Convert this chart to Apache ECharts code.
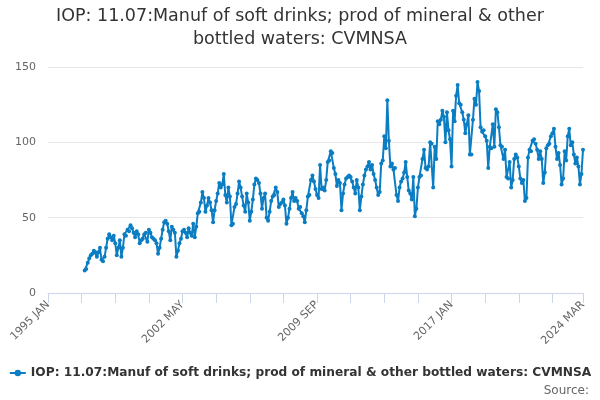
<!DOCTYPE html>
<html>
<head>
<meta charset="utf-8">
<script src="https://cdn.jsdelivr.net/npm/echarts@6/dist/echarts.min.js"></script>
<style>
html,body{margin:0;padding:0;background:#fff;}
#chart{width:600px;height:400px;}
</style>
</head>
<body>
<div id="chart"></div>
<script>
const monthNames = ['JAN','FEB','MAR','APR','MAY','JUN','JUL','AUG','SEP','OCT','NOV','DEC'];
const firstYear = 1995;
const lastYear = 2024;
const lastMonthIndex = 2; // MAR
const dataStart = '1997 JAN';
const yTicks = [0, 50, 100, 150];
const seriesName = 'IOP: 11.07:Manuf of soft drinks; prod of mineral & other bottled waters: CVMNSA';

const values = [
  15, 16, 20, 23, 25, 26, 28, 27, 24, 27, 30, 22,        // 1997
  21, 24, 30, 36, 39, 37, 35, 38, 33, 25, 30, 35,        // 1998
  24, 30, 39, 38, 42, 41, 45, 43, 40, 37, 41, 39,        // 1999
  33, 35, 36, 39, 40, 34, 42, 40, 37, 36, 35, 33,        // 2000
  26, 30, 36, 42, 47, 48, 46, 41, 35, 44, 42, 40,        // 2001
  24, 28, 33, 36, 41, 42, 40, 37, 43, 40, 38, 46,        // 2002
  37, 44, 53, 54, 60, 67, 63, 54, 58, 63, 60, 55,        // 2003
  47, 55, 61, 66, 73, 70, 72, 79, 65, 60, 70, 64,        // 2004
  45, 46, 57, 59, 66, 74, 70, 64, 58, 54, 66, 60,        // 2005
  48, 54, 62, 72, 76, 75, 73, 66, 56, 63, 66, 50,        // 2006
  48, 54, 61, 64, 65, 70, 67, 57, 59, 60, 62, 58,        // 2007
  46, 50, 56, 63, 67, 61, 63, 61, 56, 57, 53, 51,        // 2008
  47, 55, 64, 65, 75, 78, 74, 69, 65, 63, 85, 69,        // 2009
  70, 68, 75, 87, 88, 94, 93, 83, 79, 71, 75, 73,        // 2010
  55, 66, 72, 76, 77, 78, 77, 74, 70, 66, 75, 70,        // 2011
  55, 64, 72, 78, 82, 84, 87, 82, 85, 79, 75, 70,        // 2012
  65, 67, 86, 88, 104, 96, 128, 101, 84, 86, 82, 83,     // 2013
  65, 61, 70, 74, 76, 80, 87, 77, 68, 66, 62, 77,        // 2014
  51, 56, 70, 77, 78, 89, 95, 83, 82, 84, 100, 99,       // 2015
  70, 97, 89, 114, 112, 115, 121, 117, 100, 120, 108, 102, // 2016
  84, 121, 114, 131, 138, 126, 125, 120, 115, 106, 112, 118, // 2017
  92, 92, 115, 129, 125, 140, 134, 110, 107, 108, 104, 101, // 2018
  83, 97, 96, 112, 97, 122, 120, 110, 98, 97, 89, 95,    // 2019
  77, 76, 87, 70, 75, 89, 92, 90, 84, 76, 73, 75,        // 2020
  61, 63, 90, 95, 94, 101, 102, 99, 95, 89, 94, 89,      // 2021
  73, 80, 96, 98, 99, 104, 106, 109, 97, 89, 93, 85,     // 2022
  72, 76, 94, 88, 104, 109, 98, 100, 92, 86, 90, 84,     // 2023
  72, 79, 95                                             // 2024
];

const categories = [];
for (let y = firstYear; y <= lastYear; y++) {
  for (let m = 0; m < 12; m++) {
    if (y === lastYear && m > lastMonthIndex) break;
    categories.push(y + ' ' + monthNames[m]);
  }
}
const startIdx = categories.indexOf(dataStart);
const seriesData = categories.map((c, i) => (i >= startIdx && i - startIdx < values.length) ? values[i - startIdx] : null);
const lastIdx = categories.length - 1;

const chart = echarts.init(document.getElementById('chart'), null, {renderer: 'canvas'});
chart.setOption({
  animation: false,
  textStyle: {fontFamily: 'DejaVu Sans'},
  title: {
    text: 'IOP: 11.07:Manuf of soft drinks; prod of mineral & other\nbottled waters: CVMNSA',
    left: 'center',
    top: 0,
    textStyle: {fontFamily: 'DejaVu Sans', fontSize: 17.5, fontWeight: 'normal', color: '#333', lineHeight: 23}
  },
  legend: {
    bottom: 16,
    left: 'center',
    itemWidth: 16,
    itemHeight: 8,
    itemGap: 4,
    textStyle: {fontFamily: 'DejaVu Sans', fontSize: 12.2, fontWeight: 'bold', color: '#333'},
    data: [seriesName]
  },
  graphic: [{
    type: 'text',
    right: 11,
    bottom: 3,
    style: {text: 'Source:', fontFamily: 'DejaVu Sans', fontSize: 12, fill: '#666'}
  }],
  grid: {left: 48, right: 17, top: 67, bottom: 107, containLabel: false},
  xAxis: {
    type: 'category',
    data: categories,
    boundaryGap: false,
    axisLine: {lineStyle: {color: '#ccd6eb'}},
    axisTick: {show: true, length: 10, interval: (i) => i % 22 === 0 || i === lastIdx, lineStyle: {color: '#ccd6eb'}},
    axisLabel: {
      interval: (i) => i % 88 === 0 || i === lastIdx,
      rotate: 45,
      color: '#666',
      fontSize: 11,
      fontFamily: 'DejaVu Sans',
      margin: 10
    },
    splitLine: {show: false}
  },
  yAxis: {
    type: 'value',
    min: yTicks[0],
    max: yTicks[yTicks.length - 1],
    interval: 50,
    axisLine: {show: false},
    axisTick: {show: false},
    axisLabel: {color: '#666', fontSize: 11, fontFamily: 'DejaVu Sans', margin: 12},
    splitLine: {lineStyle: {color: '#e6e6e6'}}
  },
  series: [{
    name: seriesName,
    type: 'line',
    data: seriesData,
    connectNulls: false,
    symbol: 'circle',
    symbolSize: 4,
    showSymbol: true,
    showAllSymbol: true,
    color: '#0b7dc2',
    lineStyle: {width: 2, color: '#0b7dc2'},
    itemStyle: {color: '#0b7dc2'}
  }]
});
</script>
</body>
</html>
